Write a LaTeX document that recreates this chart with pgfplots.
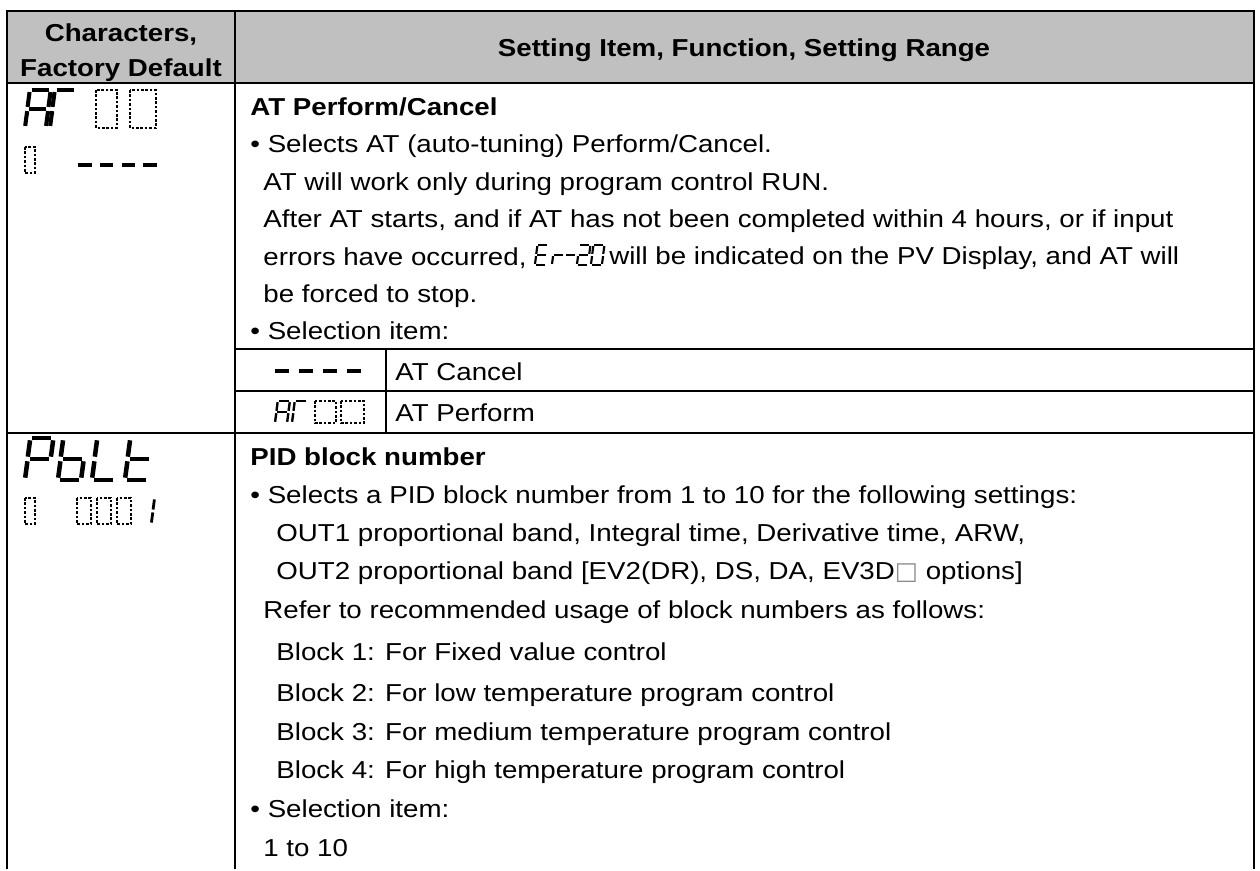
\documentclass[border=0pt]{standalone}
\usepackage{pgfplots}
\pgfplotsset{compat=1.18}
\usepackage{fontspec}
\setmainfont{Liberation Sans}[FakeStretch=1.13]
\newfontfamily\dejavu{DejaVu Sans}[FakeStretch=1.0]
\definecolor{hdr}{RGB}{192,192,192}
\tikzset{
  txt/.style={font=\fontsize{12.25pt}{15pt}\selectfont, inner sep=0pt, text=black},
  bld/.style={font=\fontsize{12.25pt}{15pt}\selectfont\bfseries, inner sep=0pt, text=black},
  tbl/.style={black, line width=1.25pt},
  dotb/.style={line width=1.3pt, dash pattern=on 1.3pt off 0.9pt},
}
\makeatletter
% 7-segment digit: x, y(top), scale, segments
\newcommand\segs[4]{%
\begin{scope}[shift={(#1,#2)},scale=#3,line width=#3*2.15pt]
\in@{a}{#4}\ifin@\draw(7,0)--(25,0);\fi
\in@{b}{#4}\ifin@\draw(26.8,2.2)--(24.7,17.8);\fi
\in@{c}{#4}\ifin@\draw(24.3,22.2)--(22.2,37.8);\fi
\in@{d}{#4}\ifin@\draw(2,40)--(20,40);\fi
\in@{e}{#4}\ifin@\draw(2.3,22.2)--(0.2,37.8);\fi
\in@{f}{#4}\ifin@\draw(4.8,2.2)--(2.7,17.8);\fi
\in@{g}{#4}\ifin@\draw(4.5,20)--(22.5,20);\fi
\end{scope}}
\makeatother
\newcommand\dbox[4]{\draw[dotb] (#1,#2) rectangle (#3,#4);}
\newcommand\dsh[3]{\draw[line width=1.8pt] (#1,#3)--(#2,#3);}
\begin{document}
\begin{tikzpicture}
\begin{axis}[hide axis, scale only axis, width=630pt, height=434.5pt,
  xmin=0, xmax=1260, ymin=0, ymax=869, y dir=reverse, clip=false,
  enlargelimits=false]
\addplot[draw=none, fill=white, forget plot] coordinates {(0,0) (1260,0) (1260,869) (0,869)};
\addplot[draw=none, fill=hdr, forget plot] coordinates {(7,11) (1254,11) (1254,83) (7,83)};
\addplot[tbl, mark=none, forget plot] coordinates {(7,869) (7,11) (1254,11) (1254,869)};
\addplot[tbl, mark=none, forget plot] coordinates {(7,83) (1254,83)};
\addplot[tbl, mark=none, forget plot] coordinates {(235,11) (235,869)};
\addplot[tbl, mark=none, forget plot] coordinates {(235,349) (1254,349)};
\addplot[tbl, mark=none, forget plot] coordinates {(235,391) (1254,391)};
\addplot[tbl, mark=none, forget plot] coordinates {(7,433) (1254,433)};
\addplot[tbl, mark=none, forget plot] coordinates {(386,349) (386,433)};
\coordinate (O) at (axis cs:0,0);
% header
\node[bld, anchor=base] at (axis cs:121,41) {Characters,};
\node[bld, anchor=base] at (axis cs:121,76) {Factory Default};
\node[bld, anchor=base] at (axis cs:744,56) {Setting Item, Function, Setting Range};
% section 1
\node[bld, anchor=base west] at (axis cs:250,115) {AT Perform/Cancel};
\node[txt, anchor=base west] at (axis cs:250,152) {• Selects AT (auto-tuning) Perform/Cancel.};
\node[txt, anchor=base west] at (axis cs:263,190) {AT will work only during program control RUN.};
\node[txt, anchor=base west] at (axis cs:263,227) {After AT starts, and if AT has not been completed within 4 hours, or if input};
\node[txt, anchor=base west] (errA) at (axis cs:263,265) {errors have occurred,};
\node[txt, anchor=base west] at (axis cs:263,302) {be forced to stop.};
\node[txt, anchor=base west] at (axis cs:250,339) {• Selection item:};
\node[txt, anchor=base west] at (axis cs:395,380) {AT Cancel};
\node[txt, anchor=base west] at (axis cs:395,421) {AT Perform};
% section 2
\node[bld, anchor=base west] at (axis cs:250,465) {PID block number};
\node[txt, anchor=base west] at (axis cs:250,503) {• Selects a PID block number from 1 to 10 for the following settings:};
\node[txt, anchor=base west] at (axis cs:276,541) {OUT1 proportional band, Integral time, Derivative time, ARW,};
\node[txt, anchor=base west] at (axis cs:276,579) {OUT2 proportional band [EV2(DR), DS, DA, EV3D{\dejavu\textcolor{black!45}{□}} options]};
\node[txt, anchor=base west] at (axis cs:263,618) {Refer to recommended usage of block numbers as follows:};
\node[txt, anchor=base west] at (axis cs:276,660) {Block 1: For Fixed value control};
\node[txt, anchor=base west] at (axis cs:276,701) {Block 2: For low temperature program control};
\node[txt, anchor=base west] at (axis cs:276,740) {Block 3: For medium temperature program control};
\node[txt, anchor=base west] at (axis cs:276,778) {Block 4: For high temperature program control};
\node[txt, anchor=base west] at (axis cs:250,817) {• Selection item:};
\node[txt, anchor=base west] at (axis cs:263,856) {1 to 10};
\end{axis}
% inline E-20 glyph and rest of the line
\begin{scope}[shift={(errA.base east)}, x=0.5pt, y=-0.5pt]
\segs{8}{-20}{0.5}{adefg}
\segs{25}{-20}{0.5}{eg}
\segs{37}{-20}{0.5}{g}
\segs{50}{-20}{0.5}{abdeg}
\segs{64}{-20}{0.5}{abcdef}
\end{scope}
\node[txt, anchor=base west] at ([xshift=41pt]errA.base east) {will be indicated on the PV Display, and AT will};
% 7-segment characters
\begin{scope}[shift={(O)}, x=0.5pt, y=-0.5pt]
\segs{25}{90}{0.95}{abcefg}
\segs{50}{90}{0.95}{aef}
\dbox{96}{90}{117}{128}
\dbox{130}{90}{156}{128}
\dbox{25}{147}{35}{173}
\dsh{78}{92}{165}\dsh{100}{113}{165}\dsh{122}{135}{165}\dsh{143}{157}{165}
% sub-table
\dsh{275}{289}{371}\dsh{299}{313}{371}\dsh{323}{337}{371}\dsh{347}{361}{371}
\segs{275}{401}{0.55}{abcefg}
\segs{292}{401}{0.55}{aef}
\dbox{315}{401}{336}{423}
\dbox{341}{401}{364}{423}
% PbLt
\segs{25}{438}{1.05}{abefg}
\segs{58}{438}{1.05}{cdefg}
\segs{92}{438}{1.05}{def}
\segs{125}{438}{1.05}{defg}
\dbox{25}{498}{35}{524}
\dbox{77}{498}{91}{524}
\dbox{97}{498}{111}{524}
\dbox{117}{498}{131}{524}
\segs{137}{498}{0.65}{bc}
\end{scope}
\end{tikzpicture}
\end{document}
